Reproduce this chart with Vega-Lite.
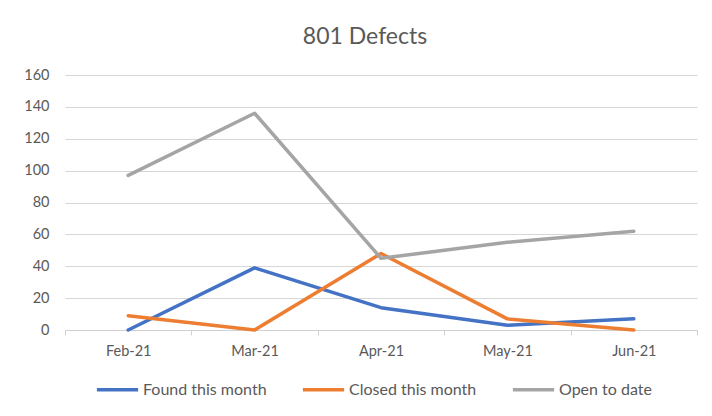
{
  "$schema": "https://vega.github.io/schema/vega-lite/v6.json",
  "width": 632,
  "height": 255,
  "autosize": {"type": "none"},
  "padding": {"left": 65, "top": 75, "right": 15, "bottom": 86},
  "background": "white",
  "config": {
    "font": "Lato",
    "view": {"stroke": null}
  },
  "title": {
    "text": "801 Defects",
    "font": "Lato",
    "fontSize": 23,
    "fontWeight": "normal",
    "color": "#595959",
    "offset": 18,
    "dx": -16
  },
  "data": {
    "values": [
      {"month": "Feb-21", "series": "Found this month", "value": 0},
      {"month": "Mar-21", "series": "Found this month", "value": 39},
      {"month": "Apr-21", "series": "Found this month", "value": 14},
      {"month": "May-21", "series": "Found this month", "value": 3},
      {"month": "Jun-21", "series": "Found this month", "value": 7},
      {"month": "Feb-21", "series": "Closed this month", "value": 9},
      {"month": "Mar-21", "series": "Closed this month", "value": 0},
      {"month": "Apr-21", "series": "Closed this month", "value": 48},
      {"month": "May-21", "series": "Closed this month", "value": 7},
      {"month": "Jun-21", "series": "Closed this month", "value": 0},
      {"month": "Feb-21", "series": "Open to date", "value": 97},
      {"month": "Mar-21", "series": "Open to date", "value": 136},
      {"month": "Apr-21", "series": "Open to date", "value": 45},
      {"month": "May-21", "series": "Open to date", "value": 55},
      {"month": "Jun-21", "series": "Open to date", "value": 62}
    ]
  },
  "mark": {"type": "line", "strokeWidth": 3.5, "strokeCap": "round", "strokeJoin": "round"},
  "encoding": {
    "x": {
      "field": "month",
      "type": "ordinal",
      "sort": ["Feb-21", "Mar-21", "Apr-21", "May-21", "Jun-21"],
      "bandPosition": 0.5,
      "scale": {"type": "band", "paddingInner": 0, "paddingOuter": 0},
      "axis": {
        "title": null,
        "labelAngle": 0,
        "labelFont": "Lato",
        "labelFontSize": 14.5,
        "labelColor": "#595959",
        "labelPadding": 9,
        "tickBand": "extent",
        "ticks": true,
        "tickSize": 5,
        "tickColor": "#D0D0D0",
        "domainColor": "#D0D0D0",
        "domainWidth": 1,
        "grid": false
      }
    },
    "y": {
      "field": "value",
      "type": "quantitative",
      "scale": {"domain": [0, 160], "nice": false},
      "axis": {
        "title": null,
        "values": [0, 20, 40, 60, 80, 100, 120, 140, 160],
        "domain": false,
        "ticks": true,
        "tickSize": 10,
        "tickOpacity": 0,
        "grid": true,
        "gridColor": "#D6D6D6",
        "gridWidth": 1,
        "labelFont": "Lato",
        "labelFontSize": 14.5,
        "labelColor": "#595959",
        "labelPadding": 6
      }
    },
    "color": {
      "field": "series",
      "type": "nominal",
      "sort": ["Found this month", "Closed this month", "Open to date"],
      "scale": {
        "domain": ["Found this month", "Closed this month", "Open to date"],
        "range": ["#4472C4", "#ED7D31", "#A5A5A5"]
      },
      "legend": {
        "title": null,
        "orient": "none",
        "direction": "horizontal",
        "legendX": 30,
        "legendY": 292,
        "symbolType": "stroke",
        "symbolSize": 1700,
        "symbolStrokeWidth": 3.5,
        "labelFont": "Lato",
        "labelFontSize": 16,
        "labelColor": "#595959",
        "labelOffset": 3,
        "columnPadding": 28
      }
    }
  }
}
